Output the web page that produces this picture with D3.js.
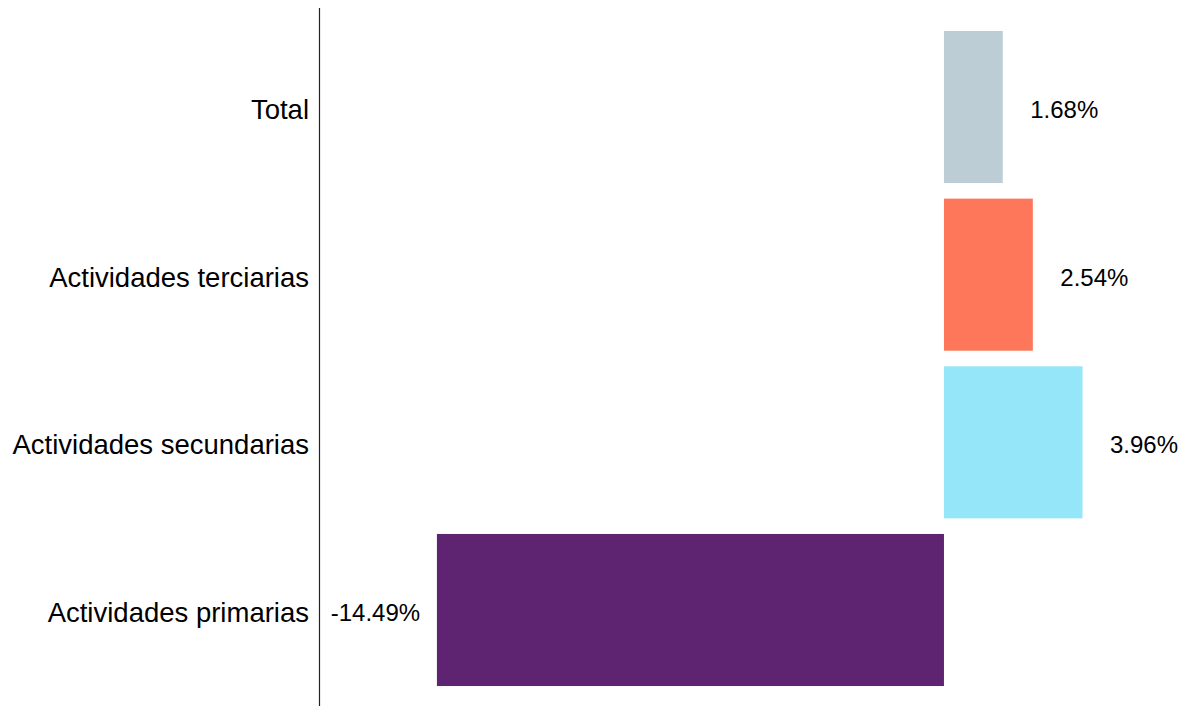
<!DOCTYPE html>
<html>
<head>
<meta charset="utf-8">
<script src="https://cdn.jsdelivr.net/npm/d3@7.8.5/dist/d3.min.js"></script>
<style>
  html, body { margin: 0; padding: 0; background: #fff; }
  svg { display: block; font-family: Arial, "Liberation Sans", sans-serif; }
</style>
</head>
<body>
<svg id="chart" width="1191" height="706"></svg>
<script>
// Categories top to bottom
const categories = ['Total', 'Actividades terciarias', 'Actividades secundarias', 'Actividades primarias'];
const values = [1.68, 2.54, 3.96, -14.49];
const colors = ['#bccdd5', '#ff775a', '#95e6f8', '#5e2471'];
const valueLabels = ['1.68%', '2.54%', '3.96%', '-14.49%'];

const width = 1191, height = 706;
const axisX = 319;

const svg = d3.select('#chart');

const x = d3.scaleLinear()
    .domain([-17.86, 7.06])
    .range([axisX, width]);

const y = d3.scaleBand()
    .domain(categories)
    .range([8, 709])
    .paddingInner(0.093)
    .paddingOuter(0.137);

const rows = categories.map((c, i) => ({ cat: c, value: values[i], color: colors[i], label: valueLabels[i] }));

// Bars
svg.selectAll('.bar')
    .data(rows)
    .enter()
    .append('rect')
    .attr('class', 'bar')
    .attr('x', d => x(Math.min(0, d.value)))
    .attr('y', d => y(d.cat))
    .attr('width', d => Math.abs(x(d.value) - x(0)))
    .attr('height', y.bandwidth())
    .attr('fill', d => d.color);

// Value labels, centred a fixed distance past the bar end
svg.selectAll('.val')
    .data(rows)
    .enter()
    .append('text')
    .attr('class', 'val')
    .attr('x', d => x(d.value) + (d.value < 0 ? -61.5 : 61.5))
    .attr('y', d => y(d.cat) + y.bandwidth() / 2 + 11)
    .attr('text-anchor', 'middle')
    .style('font-size', '24px')
    .style('fill', '#000')
    .text(d => d.label);

// Category axis (line only, labels on the left)
const axis = svg.append('g')
    .attr('transform', `translate(${axisX},0)`)
    .call(d3.axisLeft(y).tickSize(0).tickPadding(10));

axis.select('.domain')
    .attr('d', `M0.5,8V${height}`)
    .attr('stroke', '#222')
    .attr('stroke-width', 1.2);

axis.selectAll('.tick text')
    .attr('dy', null)
    .attr('y', 12)
    .style('font-size', '27.5px')
    .style('font-family', 'Arial, "Liberation Sans", sans-serif')
    .style('fill', '#000');
</script>
</body>
</html>
